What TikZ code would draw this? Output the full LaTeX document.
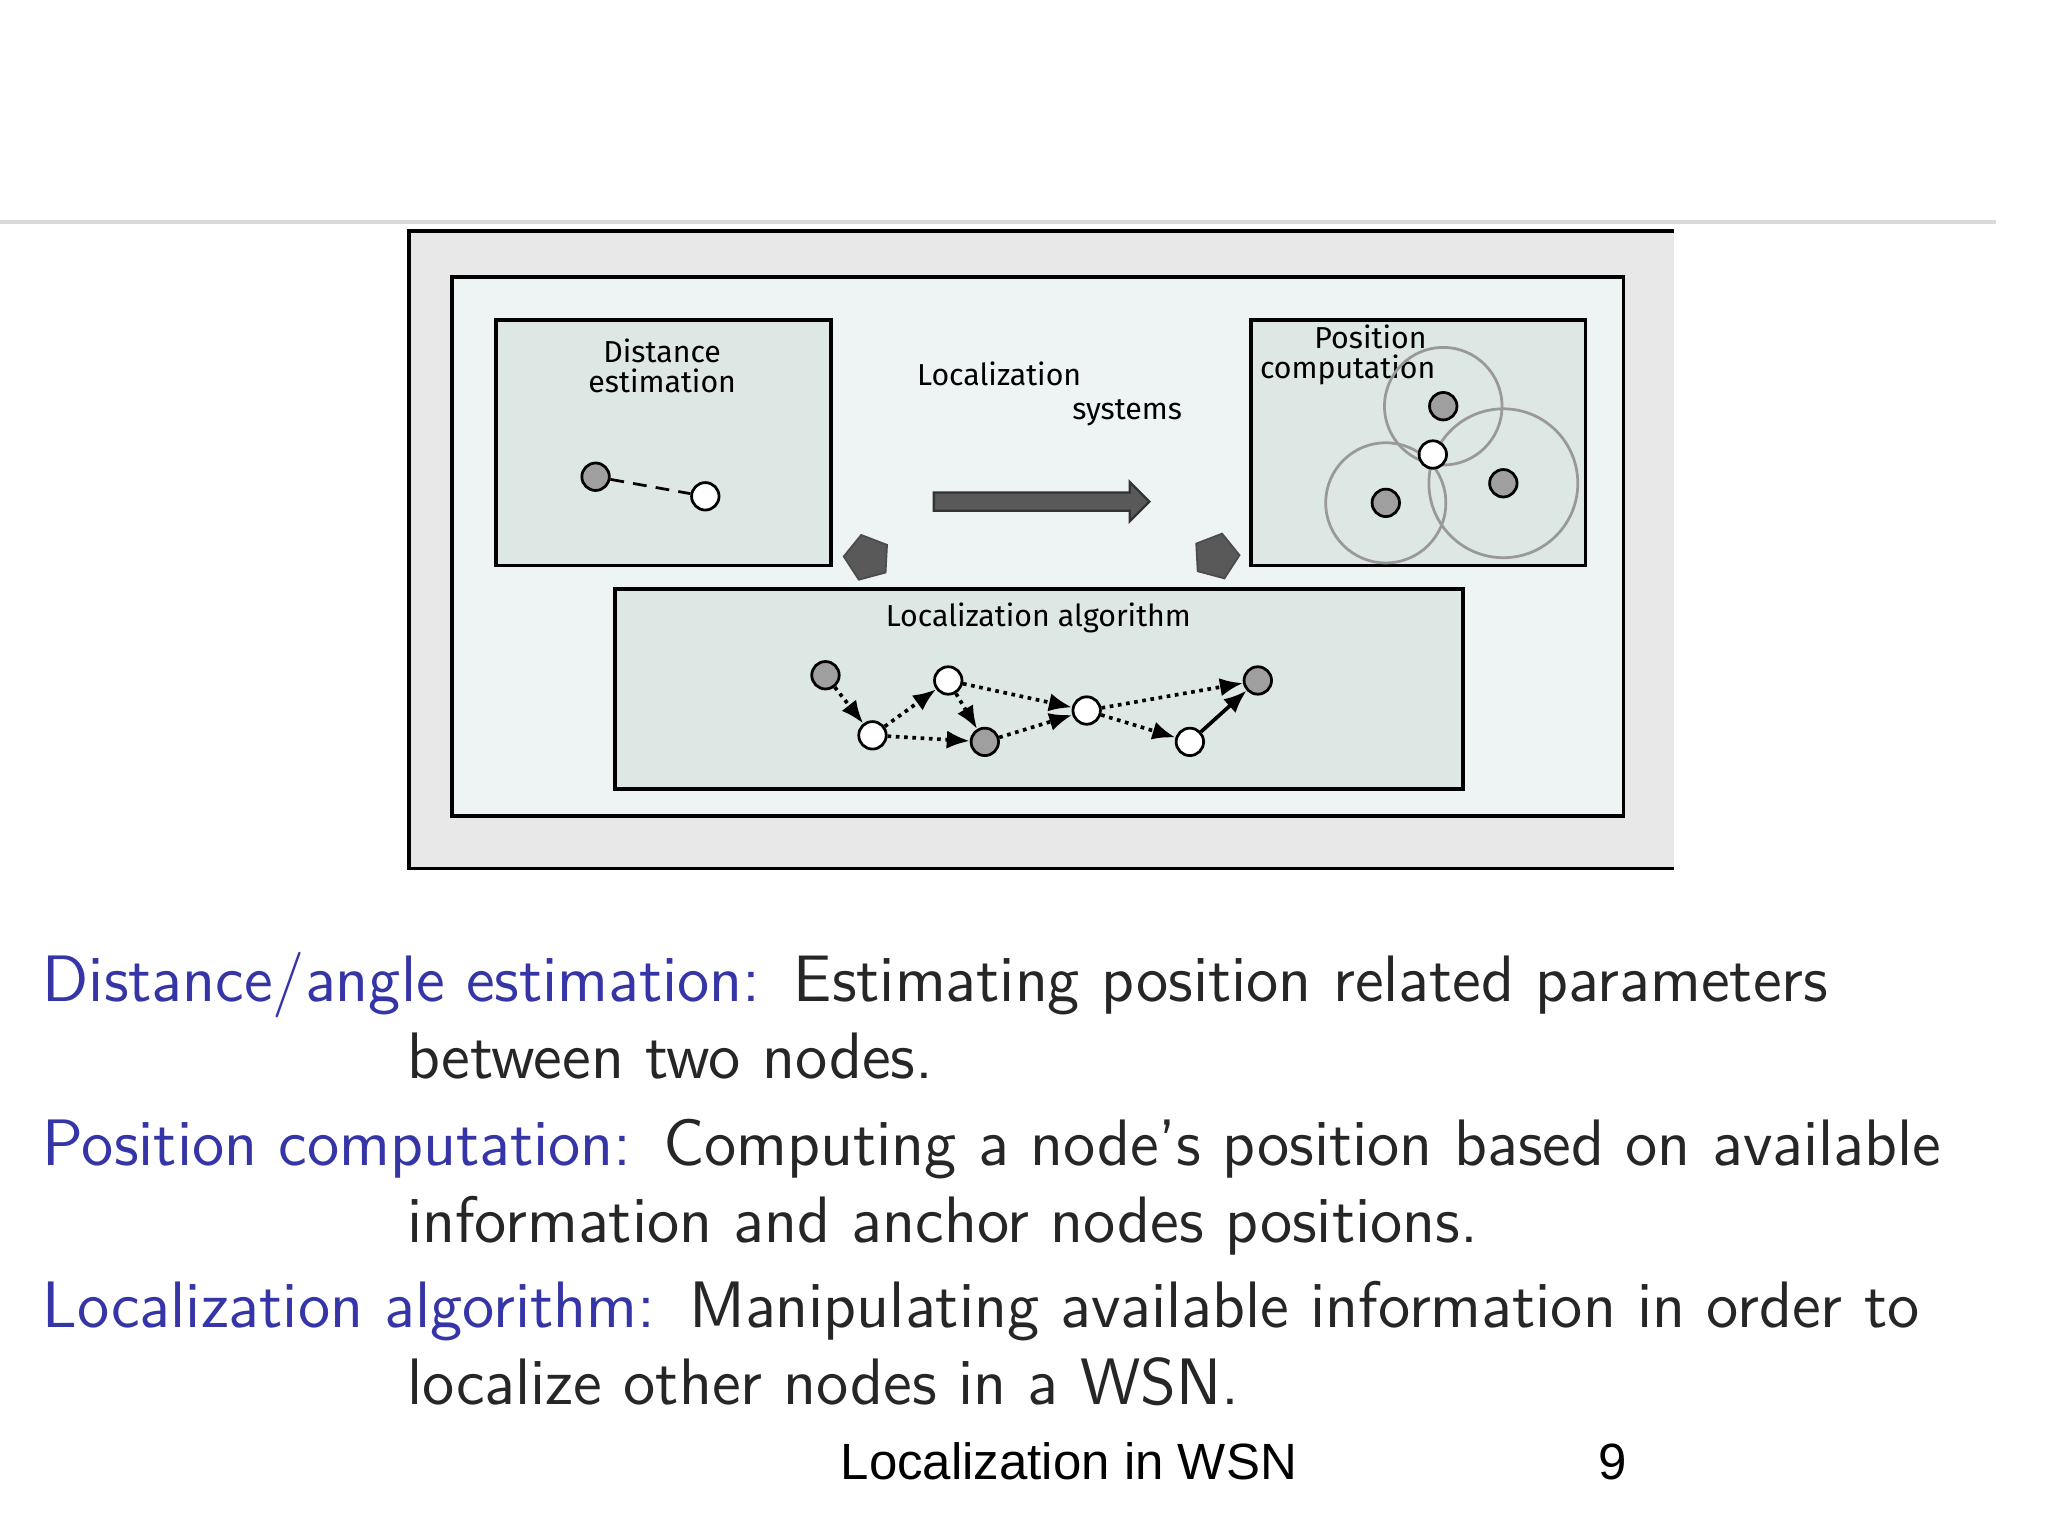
\documentclass[tikz,border=0pt]{standalone}
\usepackage{fontspec}
\newfontfamily\diag{Fira Sans}
\newfontfamily\arial{Liberation Sans}
\usetikzlibrary{arrows.meta,shapes.geometric}
\definecolor{term}{HTML}{3535A8}
\tikzset{
 box/.style={draw=black,line width=0.8pt,fill=boxfill},
 gnode/.style={circle,draw=black,fill=gray!75,minimum size=0.21cm,inner sep=0pt,line width=0.6pt},
 wnode/.style={circle,draw=black,fill=white,minimum size=0.21cm,inner sep=0pt,line width=0.6pt},
 ring/.style={draw=gray!80,line width=0.6pt},
 dl/.style={font=\diag\fontsize{6.6}{7.6}\selectfont,align=center,inner sep=0pt},
 ed/.style={densely dotted,line width=0.8pt,-{Latex[length=5pt,width=4pt]}},
 pent/.style={regular polygon,regular polygon sides=5,fill=gray!70!black,draw=black!70,line width=0.4pt,minimum size=0.36cm,inner sep=0pt},
 term/.style={anchor=base west,inner sep=0pt,text=term,font=\sffamily\fontsize{14.3}{16}\selectfont},
 body/.style={anchor=base west,inner sep=0pt,text=black!85,font=\sffamily\fontsize{14.3}{16}\selectfont},
}
\definecolor{boxfill}{HTML}{DDE7E3}
\begin{document}
\begin{tikzpicture}[x=0.01cm,y=-0.01cm]
\useasboundingbox (0,0) rectangle (1568,1176);
\fill[white] (0,0) rectangle (1568,1176);
\draw[gray!30,line width=1pt] (0,170) -- (1528,170);
% outer frame
\fill[black!9] (313,177) rectangle (1282,665);
\draw[line width=0.8pt] (1282,177) -- (313,177) -- (313,665) -- (1282,665);
\draw[box,fill={rgb,255:red,238;green,243;blue,243}] (346,212) rectangle (1243,625);
% boxes
\draw[box] (380,245) rectangle (636,433);
\draw[box] (958,245) rectangle (1214,433);
\draw[box] (471,451) rectangle (1120,604);
\node[dl] (tde) at (507,280) {Distance\\[-1pt]estimation};
\node[dl,anchor=north west] (tpc) at (964,248) {\hspace*{1.5em}Position\\[-1pt]computation};
\node[dl] (tls1) at (765,286) {Localization};
\node[dl] (tls2) at (863,316) {systems};
\node[dl] (tla) at (795,473) {Localization algorithm};
% distance estimation
\node[gnode] (d1) at (456,365) {};
\node[wnode] (d2) at (540,380) {};
\draw[densely dashed,line width=0.6pt] (d1) -- (d2);
% position computation
\draw[ring] (1105,311) circle (45);
\draw[ring] (1061,385) circle (46);
\draw[ring] (1151,370) circle (57);
\node[gnode] (p1) at (1105,311) {};
\node[gnode] (p2) at (1061,385) {};
\node[gnode] (p3) at (1151,370) {};
\node[wnode] (p0) at (1097,348) {};
% big arrow
\draw[fill=gray!70!black,draw=black!80,line width=0.5pt] (715,377) -- (865,377) -- (865,369) -- (880,384) -- (865,399) -- (865,391) -- (715,391) -- cycle;
\node[pent,rotate=15] (pa) at (664,427) {};
\node[pent,rotate=-15] (pb) at (931,426) {};
% algorithm
\node[gnode] (g1) at (632,517) {};
\node[wnode] (w1) at (668,563) {};
\node[wnode] (w2) at (726,521) {};
\node[gnode] (g2) at (754,568) {};
\node[wnode] (w3) at (832,544) {};
\node[wnode] (w4) at (911,568) {};
\node[gnode] (g3) at (963,521) {};
\draw[ed] (g1) -- (w1);
\draw[ed] (w1) -- (w2);
\draw[ed] (w1) -- (g2);
\draw[ed] (w2) -- (g2);
\draw[ed] (w2) -- (w3);
\draw[ed] (g2) -- (w3);
\draw[ed] (w3) -- (w4);
\draw[ed] (w3) -- (g3);
\draw[line width=0.8pt,-{Latex[length=5pt,width=4pt]}] (w4) -- (g3);
% text
\node[term] (t1) at (32,767) {Distance/angle estimation:};
\node[body] (b1) at (607,767) {Estimating position related parameters};
\node[body] (b1b) at (311,826) {between two nodes.};
\node[term] (t2) at (32,892) {Position computation:};
\node[body] (b2) at (507,892) {Computing a node's position based on available};
\node[body] (b2b) at (311,951) {information and anchor nodes positions.};
\node[term] (t3) at (32,1016) {Localization algorithm:};
\node[body] (b3) at (527,1016) {Manipulating available information in order to};
\node[body] (b3b) at (311,1075) {localize other nodes in a WSN.};
\node[anchor=base west,inner sep=0pt,font=\arial\fontsize{11.1}{13}\selectfont] (ft) at (643,1133) {Localization in WSN};
\node[anchor=base west,inner sep=0pt,font=\arial\fontsize{11.1}{13}\selectfont] (pg) at (1223,1133) {9};
\end{tikzpicture}
\end{document}
